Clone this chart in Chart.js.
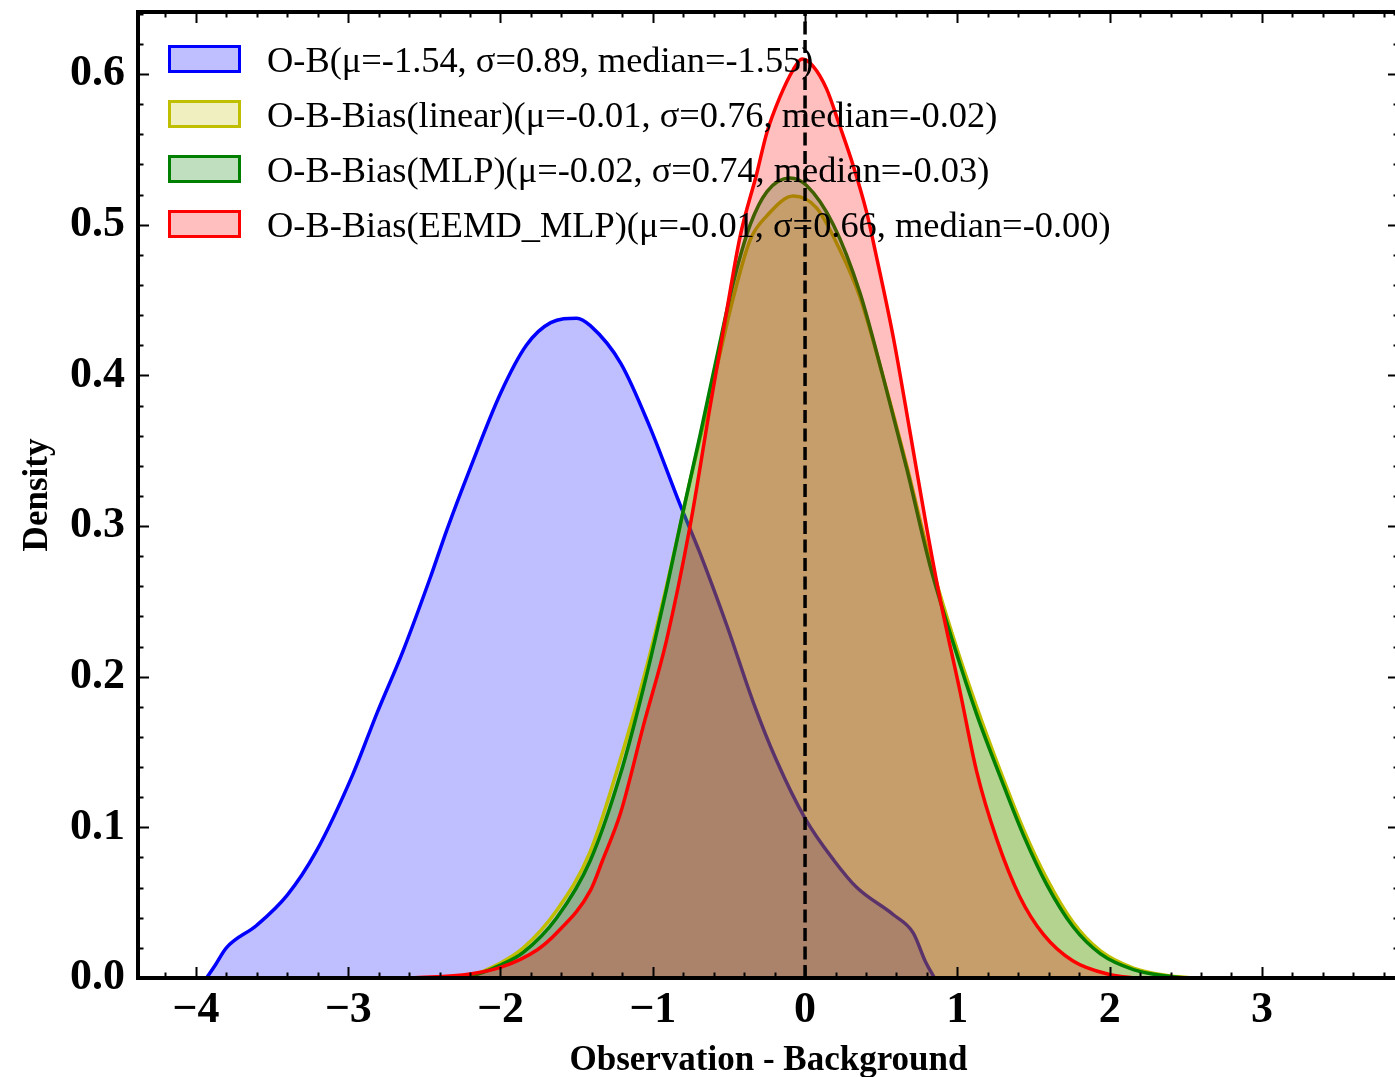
<!DOCTYPE html>
<html>
<head>
<meta charset="utf-8">
<script src="https://cdn.jsdelivr.net/npm/chart.js@4.4.0/dist/chart.umd.min.js"></script>
<style>
  html, body { margin: 0; padding: 0; background: #fff; overflow: hidden; }
  canvas { display: block; }
</style>
</head>
<body>
<canvas id="kde" width="1400" height="1077"></canvas>
<script>
// KDE curves (x = O-B value, y = density)
const obX   = [-3.93,-3.87,-3.80,-3.60,-3.40,-3.21,-2.97,-2.81,-2.64,-2.46,-2.35,-2.20,-2.00,-1.83,-1.67,-1.50,-1.41,-1.21,-1.02,-0.82,-0.69,-0.51,-0.34,-0.19,0.00,0.19,0.34,0.58,0.71,0.79,0.85];
const obY   = [0,0.009,0.020,0.035,0.055,0.084,0.135,0.176,0.217,0.266,0.298,0.338,0.388,0.420,0.435,0.438,0.433,0.408,0.366,0.314,0.282,0.233,0.183,0.145,0.106,0.078,0.060,0.042,0.030,0.011,0];

const linX  = [-2.50,-2.20,-2.00,-1.85,-1.63,-1.41,-1.21,-1.06,-0.91,-0.755,-0.58,-0.47,-0.36,-0.25,-0.077,0.077,0.23,0.36,0.51,0.668,0.82,0.974,1.127,1.28,1.433,1.587,1.76,1.94,2.156,2.375,2.55];
const linY  = [0,0.0018,0.010,0.020,0.045,0.084,0.146,0.199,0.260,0.330,0.405,0.452,0.490,0.506,0.519,0.511,0.483,0.452,0.400,0.340,0.278,0.226,0.180,0.138,0.099,0.066,0.037,0.018,0.0066,0.0017,0];

const mlpX  = [-2.40,-2.20,-2.00,-1.85,-1.63,-1.41,-1.21,-1.06,-0.91,-0.80,-0.69,-0.58,-0.47,-0.36,-0.25,-0.10,0.01,0.186,0.36,0.51,0.668,0.82,0.974,1.127,1.28,1.433,1.587,1.76,1.94,2.156,2.375,2.50];
const mlpY  = [0,0.0013,0.0086,0.017,0.040,0.078,0.136,0.193,0.258,0.310,0.360,0.412,0.462,0.500,0.522,0.531,0.526,0.500,0.455,0.400,0.338,0.274,0.222,0.175,0.134,0.095,0.062,0.034,0.016,0.0056,0.0013,0];

const eemdX = [-2.59,-2.20,-2.00,-1.76,-1.63,-1.41,-1.33,-1.21,-1.06,-0.91,-0.755,-0.624,-0.514,-0.427,-0.317,-0.251,-0.164,-0.077,-0.02,0.055,0.142,0.23,0.317,0.405,0.46,0.58,0.69,0.80,0.886,1.018,1.127,1.259,1.41,1.565,1.76,2.00,2.16];
const eemdY = [0,0.0027,0.007,0.0186,0.030,0.058,0.078,0.110,0.168,0.224,0.300,0.379,0.443,0.492,0.534,0.561,0.585,0.603,0.610,0.605,0.590,0.565,0.539,0.508,0.483,0.425,0.362,0.298,0.252,0.190,0.137,0.092,0.054,0.029,0.0113,0.0023,0];

const seriesLabels = [
  'O-B(\u03bc=-1.54, \u03c3=0.89, median=-1.55)',
  'O-B-Bias(linear)(\u03bc=-0.01, \u03c3=0.76, median=-0.02)',
  'O-B-Bias(MLP)(\u03bc=-0.02, \u03c3=0.74, median=-0.03)',
  'O-B-Bias(EEMD_MLP)(\u03bc=-0.01, \u03c3=0.66, median=-0.00)'
];
const lineColors = ['rgb(0,0,255)', 'rgb(191,191,0)', 'rgb(0,128,0)', 'rgb(255,0,0)'];
const fillColors = ['rgba(0,0,255,0.25)', 'rgba(191,191,0,0.25)', 'rgba(0,128,0,0.25)', 'rgba(255,0,0,0.25)'];

const xMin = -4.38, xMax = 3.90;
const yMin = 0, yMax = 0.6412;
const zeroLine = [0, 0];

const pts = (xs, ys) => xs.map((x, i) => ({x: x, y: ys[i]}));
const curves = [pts(obX, obY), pts(linX, linY), pts(mlpX, mlpY), pts(eemdX, eemdY)];

const datasets = curves.map((d, i) => ({
  label: seriesLabels[i],
  data: d,
  borderColor: lineColors[i],
  backgroundColor: fillColors[i],
  borderWidth: 3.5,
  fill: 'origin',
  pointRadius: 0,
  cubicInterpolationMode: 'monotone',
  order: 4 - i
}));
datasets.push({
  label: 'zero',
  data: [{x: zeroLine[0], y: yMin}, {x: zeroLine[1], y: yMax}],
  borderColor: '#000',
  borderWidth: 3.5,
  borderDash: [13, 5.5],
  pointRadius: 0,
  fill: false,
  order: 0
});

// matplotlib-like frame with inward ticks on all sides
const frame = {
  id: 'frame',
  afterDraw(chart) {
    const ctx = chart.ctx, a = chart.chartArea;
    const xs = chart.scales.x, ys = chart.scales.y;
    ctx.save();
    ctx.strokeStyle = '#000';
    ctx.lineWidth = 2;
    ctx.beginPath();
    for (let i = Math.ceil(xMin / 0.2); i <= Math.floor(xMax / 0.2); i++) {
      const v = i * 0.2;
      const len = Math.abs(v - Math.round(v)) < 1e-6 ? 11 : 5.5;
      const p = Math.round(xs.getPixelForValue(v)) + 0.5;
      ctx.moveTo(p, a.bottom); ctx.lineTo(p, a.bottom - len);
      ctx.moveTo(p, a.top); ctx.lineTo(p, a.top + len);
    }
    for (let i = 0; i <= Math.floor(yMax / 0.02 + 1e-6); i++) {
      const len = i % 5 === 0 ? 11 : 5.5;
      const p = Math.round(ys.getPixelForValue(i * 0.02)) + 0.5;
      ctx.moveTo(a.left, p); ctx.lineTo(a.left + len, p);
      ctx.moveTo(a.right, p); ctx.lineTo(a.right - len, p);
    }
    ctx.stroke();
    ctx.lineWidth = 4;
    ctx.strokeRect(a.left, a.top, a.right - a.left, a.bottom - a.top);
    ctx.restore();
  }
};

// legend drawn inside the axes, no frame
const innerLegend = {
  id: 'innerLegend',
  afterDraw(chart) {
    const ctx = chart.ctx;
    ctx.save();
    ctx.font = '36.4px "Liberation Serif"';
    ctx.textBaseline = 'middle';
    ctx.textAlign = 'left';
    seriesLabels.forEach((txt, i) => {
      const ds = chart.data.datasets[i];
      const cy = 59 + i * 55;
      ctx.fillStyle = '#fff';
      ctx.fillRect(169.5, cy - 12.5, 70, 25);
      ctx.fillStyle = ds.backgroundColor;
      ctx.fillRect(169.5, cy - 12.5, 70, 25);
      ctx.strokeStyle = ds.borderColor;
      ctx.lineWidth = 3;
      ctx.strokeRect(169.5, cy - 12.5, 70, 25);
      ctx.fillStyle = '#000';
      ctx.fillText(txt, 267, cy + 3);
    });
    ctx.restore();
  }
};

Chart.defaults.font.family = '"Liberation Serif"';
Chart.defaults.color = '#000';

new Chart(document.getElementById('kde'), {
  type: 'line',
  data: {datasets: datasets},
  options: {
    responsive: false,
    devicePixelRatio: 1,
    animation: false,
    layout: {padding: {left: 0, right: 1, top: 12, bottom: 0}},
    plugins: {legend: {display: false}, tooltip: {enabled: false}},
    scales: {
      x: {
        type: 'linear',
        min: xMin,
        max: xMax,
        grid: {display: false, drawTicks: false},
        border: {display: false},
        ticks: {
          stepSize: 1,
          includeBounds: false,
          maxRotation: 0,
          padding: 6,
          font: {size: 44, weight: 'bold', lineHeight: 1.2},
          callback: v => (v < 0 ? '\u2212' + Math.abs(v) : String(v))
        },
        title: {
          display: true,
          text: 'Observation - Background',
          font: {size: 35, weight: 'bold', lineHeight: 1},
          padding: {top: 0, bottom: -1.5}
        },
        afterFit(s) { s.height = 99; s.paddingLeft = 0; s.paddingRight = 0; }
      },
      y: {
        type: 'linear',
        min: yMin,
        max: yMax,
        grid: {display: false, drawTicks: false},
        border: {display: false},
        ticks: {
          stepSize: 0.1,
          includeBounds: false,
          padding: 13,
          font: {size: 44, weight: 'bold', lineHeight: 1.2},
          callback: v => v.toFixed(1)
        },
        title: {
          display: true,
          text: 'Density',
          font: {size: 35, weight: 'bold', lineHeight: 1},
          padding: {top: 20.5, bottom: 0}
        },
        afterFit(s) { s.width = 138; s.paddingTop = 0; s.paddingBottom = 0; }
      }
    }
  },
  plugins: [frame, innerLegend]
});
</script>
</body>
</html>
